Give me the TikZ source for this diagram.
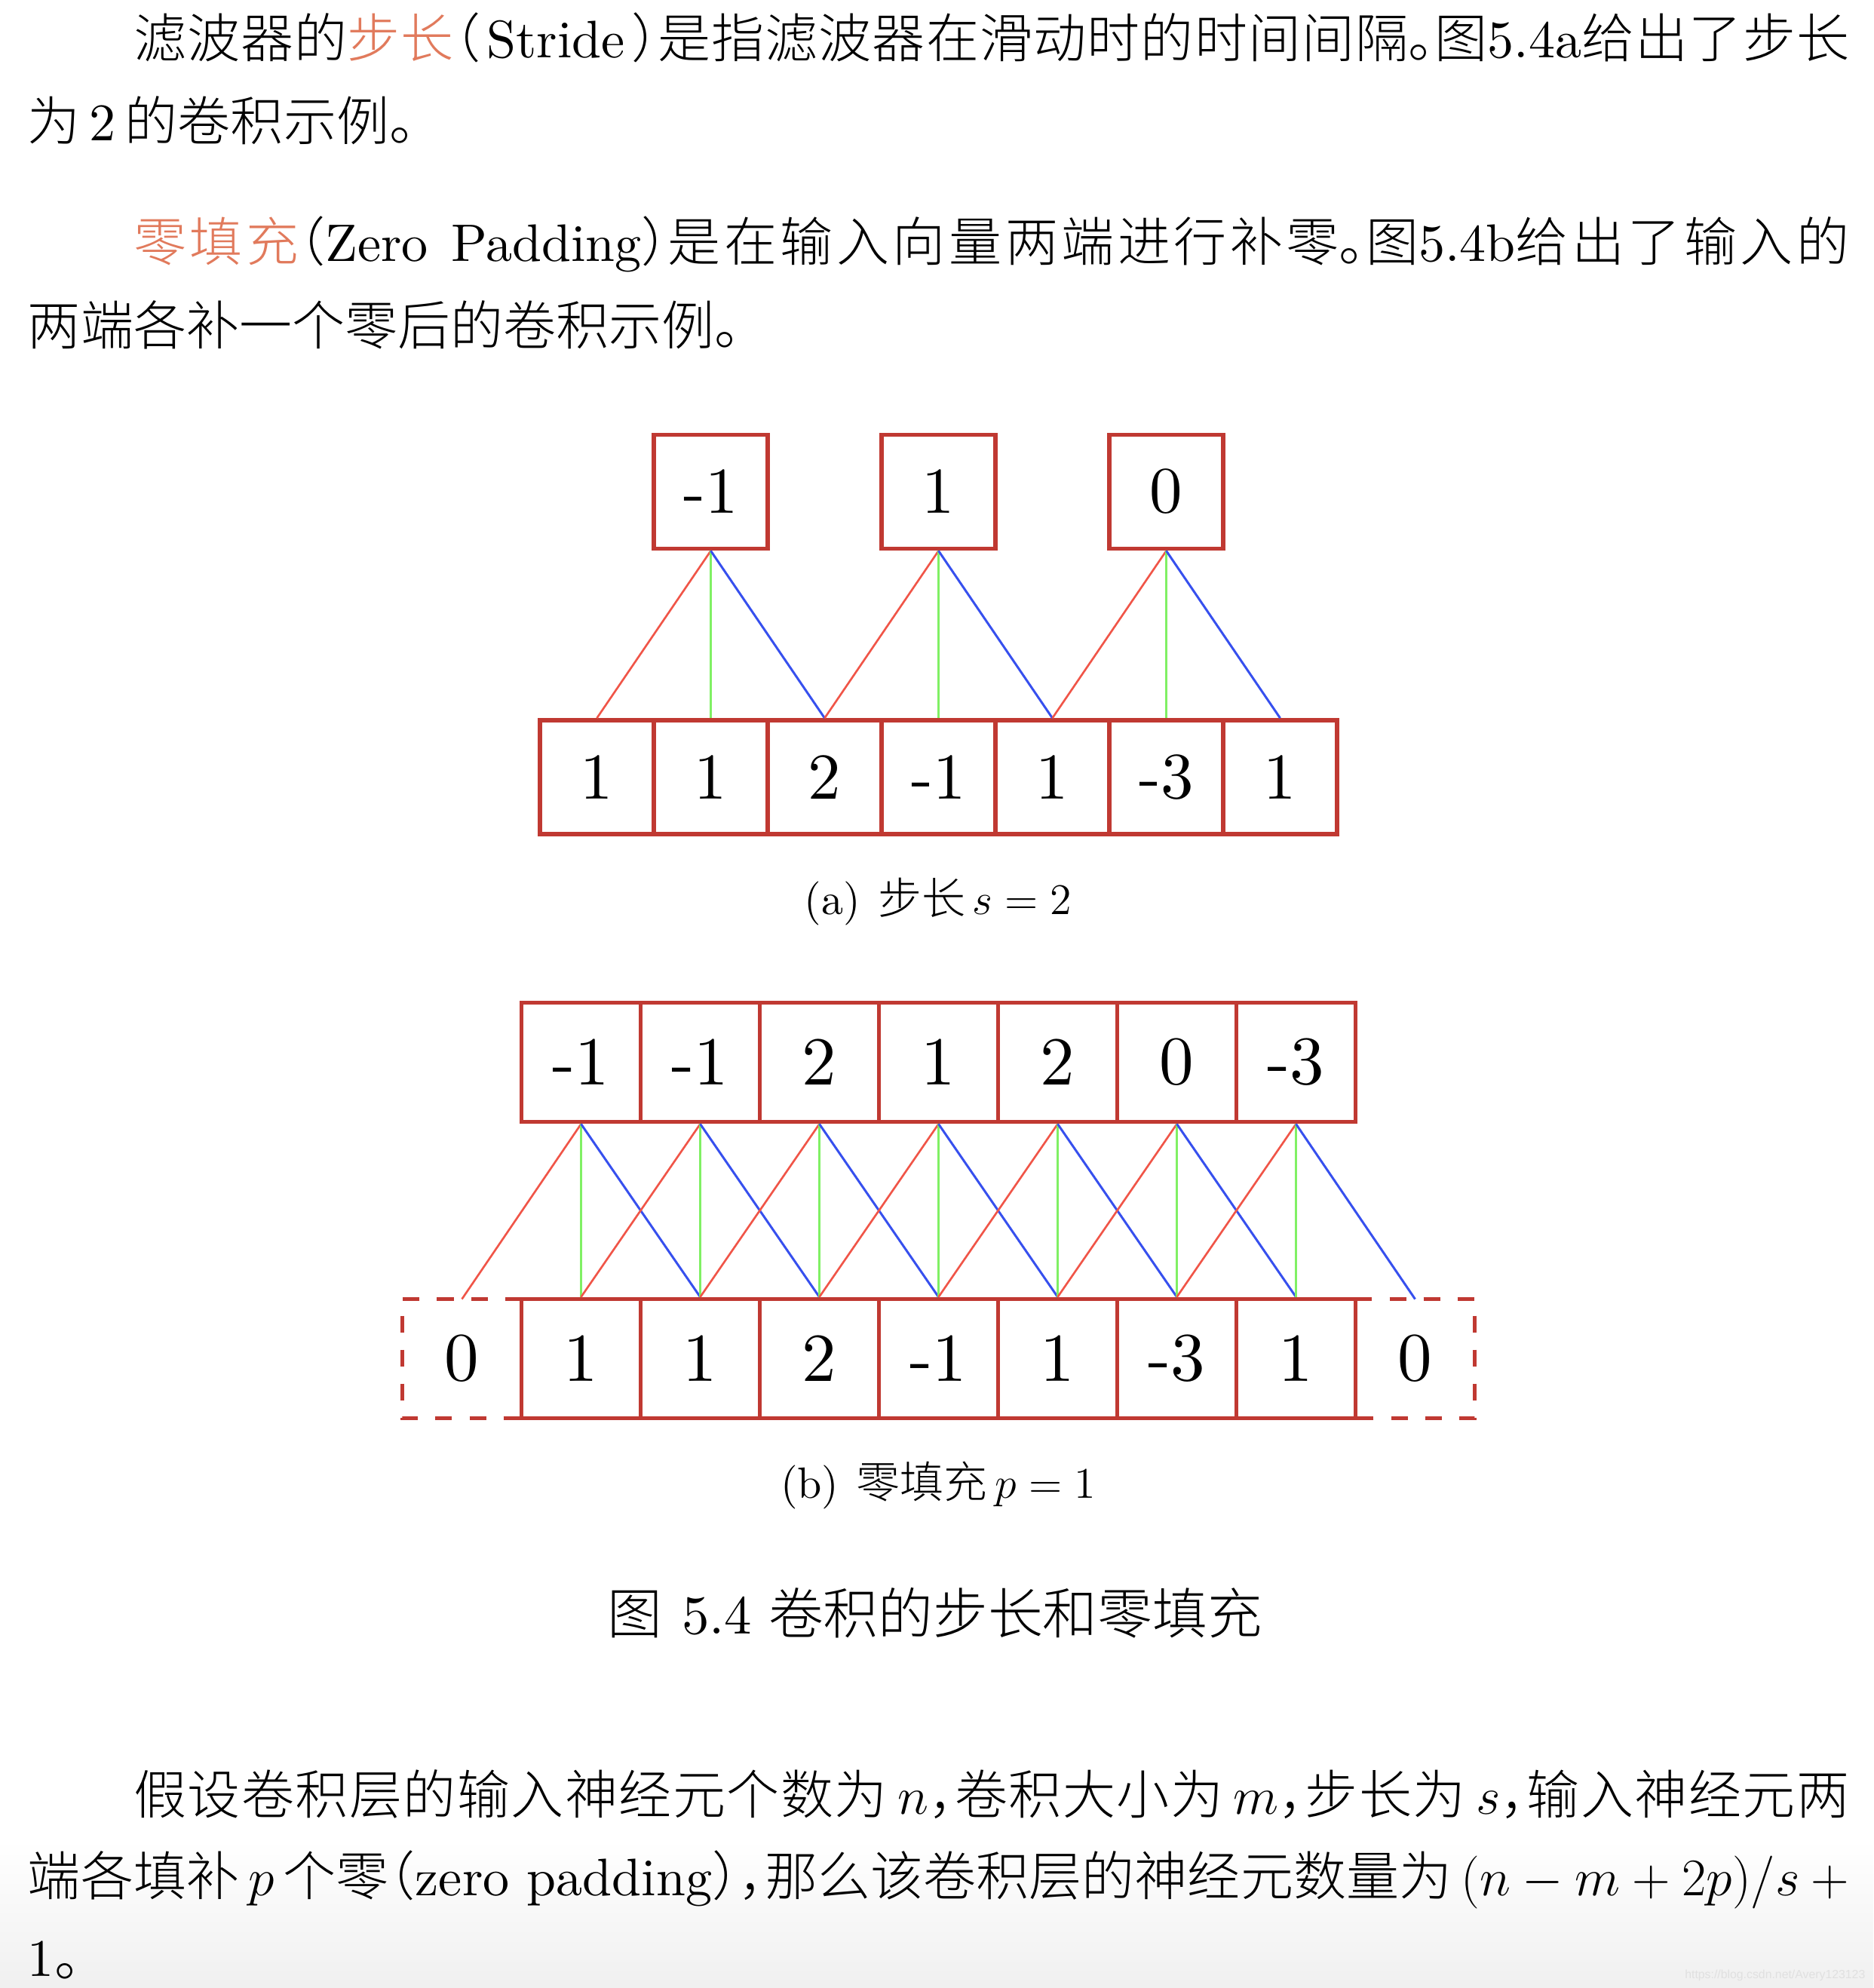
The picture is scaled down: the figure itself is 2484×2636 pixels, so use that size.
\RequirePackage{fix-cm}
\documentclass[tikz,border=0pt]{standalone}
\usepackage{fontspec}
\setmainfont{lmroman10-regular}[Extension=.otf, ItalicFont=lmroman10-italic, BoldFont=lmroman10-bold]
\IfFontExistsTF{Noto Sans CJK SC Light}{%
  \newfontfamily\cjk{Noto Sans CJK SC Light}%
  \newfontfamily\cjkh[RawFeature=+halt]{Noto Sans CJK SC Light}%
}{%
  \newfontfamily\cjk{Noto Sans CJK SC}%
  \newfontfamily\cjkh[RawFeature=+halt]{Noto Sans CJK SC}%
}
\newfontfamily\wmfont{Liberation Sans}
\XeTeXlinebreaklocale "zh"
\XeTeXlinebreakskip=0pt plus 2pt minus 0.4pt
\definecolor{boxred}{RGB}{192,57,50}
\definecolor{lred}{RGB}{240,85,72}
\definecolor{lgreen}{RGB}{128,240,100}
\definecolor{lblue}{RGB}{55,80,238}
\definecolor{accent}{RGB}{225,122,92}
\newcommand\bodyfont{\fontsize{19.92pt}{24pt}\selectfont}
\newcommand\capfont{\fontsize{16.5pt}{20pt}\selectfont}
\newcommand\figcapfont{\fontsize{20.7pt}{26pt}\selectfont}
\newcommand\numafont{\fontsize{24.7pt}{28pt}\selectfont}
\newcommand\numbfont{\fontsize{25.9pt}{30pt}\selectfont}
\newcommand\wmsize{\wmfont\fontsize{4.5pt}{5pt}\selectfont}
\newcommand\eg{\hskip 0.17em plus 0.1em minus 0.12em\relax}
\newcommand\hp[1]{{\cjkh #1}}
\begin{document}
\begin{tikzpicture}[x=0.01cm,y=-0.01cm,
  cellA/.style={draw=boxred, line width=1.6pt, minimum size=1.51cm, inner sep=0pt, outer sep=0.8pt, font=\numafont},
  cellB/.style={draw=boxred, line width=1.6pt, minimum size=1.58cm, inner sep=0pt, outer sep=0.8pt, font=\numbfont},
  padB/.style={minimum size=1.58cm, inner sep=0pt, outer sep=0pt, font=\numbfont},
  padline/.style={draw=boxred, line width=1.6pt, dash pattern=on 0.22cm off 0.23cm},
  rl/.style={draw=lred, line width=0.75pt},
  gl/.style={draw=lgreen, line width=0.6pt},
  bl/.style={draw=lblue, line width=0.85pt},
  jline/.style={anchor=base west, inner sep=0pt, outer sep=0pt, text width=24.14cm, align=justify, font=\bodyfont},
  nline/.style={anchor=base west, inner sep=0pt, outer sep=0pt, font=\bodyfont},
  subcap/.style={anchor=base, inner sep=0pt, font=\capfont},
]
\fill[white] (0,0) rectangle (2484,2636);
\shade[top color=white, bottom color=black!6] (0,2440) rectangle (2484,2636);
\path[use as bounding box] (0,0) rectangle (2484,2636);

% paragraph 1
\node[jline] (p1a) at (37,77) {\parfillskip=0pt\hspace*{2em}{\cjk 滤波器的{\color{accent}步长}\hp{（}}\hspace{0.12em}Stride\hspace{0.12em}{\cjk\hp{）}是指滤波器在滑动时的时间间隔\hp{。}图}5.4a{\cjk 给出了步长}\par};
\node[nline] (p1b) at (37,186) {{\cjk 为}\eg 2\eg{\cjk 的卷积示例。}};
% paragraph 2
\node[jline] (p2a) at (37,346) {\parfillskip=0pt\hspace*{2em}{\cjk{\color{accent}零填充}\hp{（}}Zero Padding{\cjk\hp{）}是在输入向量两端进行补零\hp{。}图}5.4b{\cjk 给出了输入的}\par};
\node[nline] (p2b) at (37,457) {{\cjk 两端各补一个零后的卷积示例。}};

% (a) stride
\node[cellA] (ao0) at (942.5,652) {-1};
\node[cellA] (ao1) at (1244.5,652) {1};
\node[cellA] (ao2) at (1546.5,652) {0};
\node[cellA] (a0) at (791.5,1030.5) {1};
\node[cellA] (a1) at (942.5,1030.5) {1};
\node[cellA] (a2) at (1093.5,1030.5) {2};
\node[cellA] (a3) at (1244.5,1030.5) {-1};
\node[cellA] (a4) at (1395.5,1030.5) {1};
\node[cellA] (a5) at (1546.5,1030.5) {-3};
\node[cellA] (a6) at (1697.5,1030.5) {1};
\draw[rl] (ao0.south) -- (a0.north);
\draw[gl] (ao0.south) -- (a1.north);
\draw[bl] (ao0.south) -- (a2.north);
\draw[rl] (ao1.south) -- (a2.north);
\draw[gl] (ao1.south) -- (a3.north);
\draw[bl] (ao1.south) -- (a4.north);
\draw[rl] (ao2.south) -- (a4.north);
\draw[gl] (ao2.south) -- (a5.north);
\draw[bl] (ao2.south) -- (a6.north);
\node[subcap] (capa) at (1244,1212) {(a)\hspace{0.4em}{\cjk 步长}\,$s=2$};

% (b) zero padding
\node[cellB] (bt0) at (770.5,1408.5) {-1};
\node[cellB] (bt1) at (928.5,1408.5) {-1};
\node[cellB] (bt2) at (1086.5,1408.5) {2};
\node[cellB] (bt3) at (1244.5,1408.5) {1};
\node[cellB] (bt4) at (1402.5,1408.5) {2};
\node[cellB] (bt5) at (1560.5,1408.5) {0};
\node[cellB] (bt6) at (1718.5,1408.5) {-3};
\node[padB] (bb0) at (612.5,1801.6) {0};
\node[cellB] (bb1) at (770.5,1801.6) {1};
\node[cellB] (bb2) at (928.5,1801.6) {1};
\node[cellB] (bb3) at (1086.5,1801.6) {2};
\node[cellB] (bb4) at (1244.5,1801.6) {-1};
\node[cellB] (bb5) at (1402.5,1801.6) {1};
\node[cellB] (bb6) at (1560.5,1801.6) {-3};
\node[cellB] (bb7) at (1718.5,1801.6) {1};
\node[padB] (bb8) at (1876.5,1801.6) {0};
\draw[padline] (bb0.north east) -- (bb0.north west) -- (bb0.south west) -- (bb0.south east);
\draw[padline] (bb8.north west) -- (bb8.north east) -- (bb8.south east) -- (bb8.south west);
\foreach \j in {0,...,6}{
  \pgfmathtruncatemacro\jm{\j+1}
  \pgfmathtruncatemacro\jr{\j+2}
  \draw[rl] (bt\j.south) -- (bb\j.north);
  \draw[gl] (bt\j.south) -- (bb\jm.north);
  \draw[bl] (bt\j.south) -- (bb\jr.north);
}
\node[subcap] (capb) at (1244,1986) {(b)\hspace{0.4em}{\cjk 零填充}\,$p=1$};

% figure caption
\node[anchor=base, inner sep=0pt, font=\figcapfont] (figcap) at (1240,2166) {{\cjk 图}\hspace{0.35em}5.4\hspace{0.3em}{\cjk 卷积的步长和零填充}};

% paragraph 3
\node[jline] (p3a) at (37,2405) {\parfillskip=0pt\hspace*{2em}{\cjk 假设卷积层的输入神经元个数为}\eg$n${\cjk\hp{，}卷积大小为}\eg$m${\cjk\hp{，}步长为}\eg$s${\cjk\hp{，}输入神经元两}\par};
\node[jline] (p3b) at (37,2513) {\parfillskip=0pt{\cjk 端各填补}\eg$p$\eg{\cjk 个零\hp{（}}zero padding{\cjk\hp{），}那么该卷积层的神经元数量为}\eg$(n-m+2p)/s\mskip\medmuskip{+}$\par};
\node[nline] (p3c) at (37,2620) {1{\cjk 。}};

% watermark
\node[anchor=base east, inner sep=0pt, font=\wmsize, text=black!12] (wm) at (2474,2623) {https://blog.csdn.net/Avery123123};
\end{tikzpicture}
\end{document}
